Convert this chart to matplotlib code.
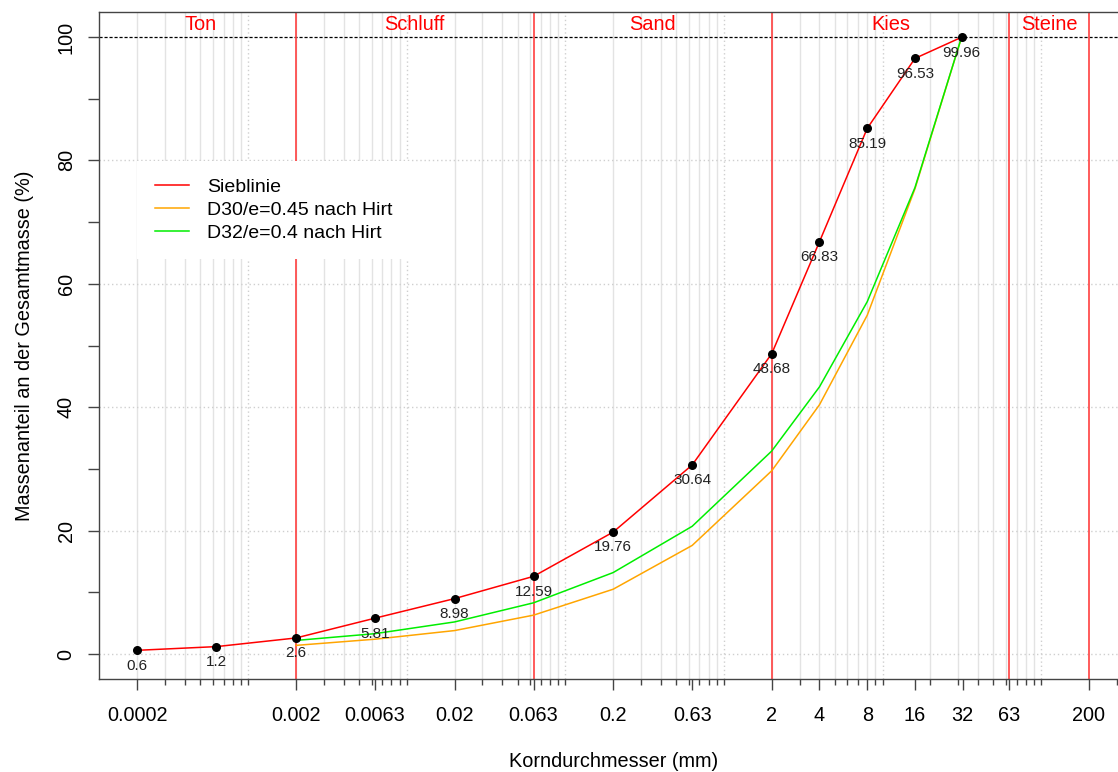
import matplotlib
matplotlib.use("Agg")
import matplotlib.pyplot as plt
import numpy as np

plt.rcParams['font.family'] = ['Liberation Sans', 'DejaVu Sans']

# ---- data ----
sieve_mm = [0.0002, 0.00063, 0.002, 0.0063, 0.02, 0.063, 0.2, 0.63, 2, 4, 8, 16, 31.5]
sieblinie = [0.6, 1.2, 2.6, 5.81, 8.98, 12.59, 19.76, 30.64, 48.68, 66.83, 85.19, 96.53, 99.96]

hirt_mm = [0.002, 0.0063, 0.02, 0.063, 0.2, 0.63, 2, 4, 8, 16, 31.5]
d30_e045 = [1.4, 2.4, 3.8, 6.3, 10.5, 17.6, 29.7, 40.4, 54.9, 75.4, 100.0]
d32_e04 = [2.2, 3.3, 5.2, 8.3, 13.2, 20.7, 32.9, 43.3, 57.1, 75.6, 100.0]

xtick_vals = [0.0002, 0.002, 0.0063, 0.02, 0.063, 0.2, 0.63, 2, 4, 8, 16, 32, 63, 200]
xtick_labels = ["0.0002", "0.002", "0.0063", "0.02", "0.063", "0.2", "0.63", "2", "4", "8", "16", "32", "63", "200"]

zone_bounds = [0.002, 0.063, 2, 63, 200]
zone_names = ["Ton", "Schluff", "Sand", "Kies", "Steine"]
zone_label_x = [0.0005, 0.0112, 0.355, 11.2, 112]

series_names = ["Sieblinie", "D30/e=0.45 nach Hirt", "D32/e=0.4 nach Hirt"]

# ---- figure ----
W, H = 1118, 772
fig = plt.figure(figsize=(W / 100, H / 100), dpi=100)
ax = fig.add_axes([99.3 / W, (H - 678.7) / H, (1127 - 99.3) / W, 666.4 / H])

ext = 10 ** 0.24
ax.set_xscale('log')
ax.set_xlim(0.0002 / ext, 200 * ext)
ax.set_ylim(-4, 104)

# grid
minor_pos = [k * 10.0 ** j for j in range(-4, 2) for k in range(2, 10)]
for xv in minor_pos:
    ax.axvline(xv, color='#e3e3e3', lw=1.0, zorder=0)
for xv in [1e-3, 1e-2, 1e-1, 1, 10, 100]:
    ax.axvline(xv, color='#cfcfcf', lw=1.0, ls=(0, (1, 2)), zorder=0)
for yv in [0, 20, 40, 60, 80]:
    ax.axhline(yv, color='#cfcfcf', lw=1.0, ls=(0, (1, 2)), zorder=0)
ax.axhline(100, color='black', lw=0.9, ls=(0, (2.5, 1.5)), zorder=1)

# zone boundaries
for xb in zone_bounds:
    ax.axvline(xb, color='#ff4040', lw=1.2, zorder=1)
for name, xl in zip(zone_names, zone_label_x):
    ax.text(xl, 102.1, name, color='#ff0000', fontsize=14.4, ha='center', va='center', zorder=2)

# curves
ax.plot(hirt_mm, d30_e045, color='#ffa500', lw=1.1, zorder=3, label=series_names[1])
ax.plot(hirt_mm, d32_e04, color='#00ee00', lw=1.1, zorder=3, label=series_names[2])
ax.plot(sieve_mm, sieblinie, color='#ff0000', lw=1.1, zorder=4, label=series_names[0])
ax.scatter(sieve_mm, sieblinie, s=30, color='black', zorder=5)
for xv, yv in zip(sieve_mm, sieblinie):
    ax.annotate(f"{yv:g}", (xv, yv), xytext=(0, -6), textcoords='offset points',
                ha='center', va='top', fontsize=11, color='#222222', zorder=6)

# axes styling
for s in ['left', 'bottom', 'top', 'right']:
    ax.spines[s].set_color('#444444')
    ax.spines[s].set_linewidth(1.0)

ax.set_xticks(xtick_vals)
ax.set_xticklabels(xtick_labels, fontsize=14.3)
minor_ticks = [k * 10.0 ** j for j in range(-4, 3) for k in range(1, 10)
               if 0.0002 / ext <= k * 10.0 ** j <= 200 * ext and k * 10.0 ** j not in xtick_vals]
ax.set_xticks(minor_ticks, minor=True)
ax.set_xticklabels([], minor=True)
ax.tick_params(axis='x', which='major', length=8, width=1.0, color='#444444', pad=12)
ax.tick_params(axis='x', which='minor', length=4.5, width=1.0, color='#444444')

ax.set_yticks([0, 20, 40, 60, 80, 100])
ax.set_yticklabels(["0", "20", "40", "60", "80", "100"], fontsize=14.3, rotation=90, va='center')
ax.set_yticks([10, 30, 50, 70, 90], minor=True)
ax.tick_params(axis='y', which='both', length=8, width=1.0, color='#444444', pad=9)

ax.set_xlabel("Korndurchmesser (mm)", fontsize=14.3, labelpad=19)
ax.set_ylabel("Massenanteil an der Gesamtmasse (%)", fontsize=14.3, labelpad=16)

handles, labels = ax.get_legend_handles_labels()
order = [labels.index(n) for n in series_names]
leg = ax.legend([handles[i] for i in order], [labels[i] for i in order],
                loc='upper left', bbox_to_anchor=((137 - 99.3) / (1127 - 99.3), (678.7 - 161) / 666.4),
                frameon=True, fancybox=False, edgecolor='none', facecolor='white', framealpha=1,
                fontsize=14, handlelength=1.75, handletextpad=0.95, labelspacing=0.27,
                borderpad=0.9, borderaxespad=0)
leg.set_zorder(10)

fig.savefig("out.png", dpi=100)
